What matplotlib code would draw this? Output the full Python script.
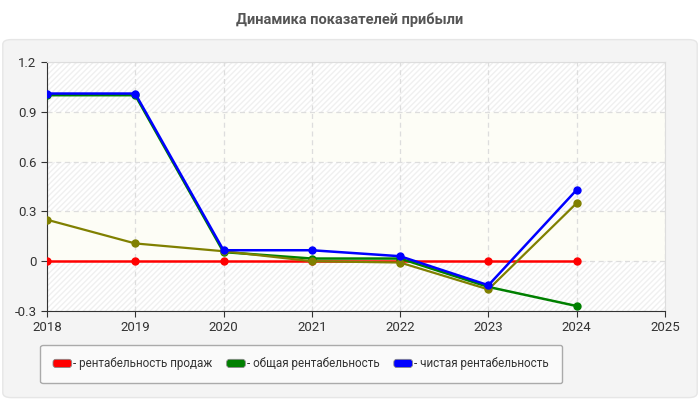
import matplotlib.pyplot as plt
from matplotlib.patches import FancyBboxPatch
from matplotlib.legend_handler import HandlerPatch

years = [2018, 2019, 2020, 2021, 2022, 2023, 2024]
sales = [0, 0, 0, 0, 0, 0, 0]
total = [1.0, 1.0, 0.055, 0.016, 0.016, -0.155, -0.27]
net = [1.01, 1.01, 0.066, 0.066, 0.03, -0.145, 0.43]
extra = [0.25, 0.107, 0.06, 0.0, -0.008, -0.17, 0.35]

labels = ['- рентабельность продаж', '- общая рентабельность', '- чистая рентабельность']
colors = ['#ff0000', '#008000', '#0000ff']
extra_color = '#808000'

yticks = [-0.3, 0, 0.3, 0.6, 0.9, 1.2]
ytick_labels = ['-0.3', '0', '0.3', '0.6', '0.9', '1.2']
xticks = [2018, 2019, 2020, 2021, 2022, 2023, 2024, 2025]

plt.rcParams['font.family'] = ['Roboto', 'DejaVu Sans']

fig = plt.figure(figsize=(7, 4), dpi=100)
fig.patch.set_facecolor('white')

# gray rounded panel behind everything
bg = fig.add_axes([0, 0, 1, 1], zorder=-10)
bg.set_axis_off()
bg.set_xlim(0, 1)
bg.set_ylim(0, 1)
bg.add_patch(FancyBboxPatch((0.004, 0.006), 0.992, 0.895, boxstyle='round,pad=0,rounding_size=0.012',
                            facecolor='#f4f4f4', edgecolor='#e6e6e6', lw=1))

fig.text(0.5, 0.95, 'Динамика показателей прибыли', ha='center', va='center',
         fontsize=10.5, fontweight='bold', color='#555555')

ax = fig.add_axes([0.067, 0.2225, 0.883, 0.6225])
ax.set_facecolor('#ffffff')

# alternating bands
for lo, hi in [(-0.3, 0), (0.3, 0.6), (0.9, 1.2)]:
    ax.axhspan(lo, hi, facecolor='white', edgecolor='#f0f0f0', hatch='//////', lw=0, zorder=0)
for lo, hi in [(0, 0.3), (0.6, 0.9)]:
    ax.axhspan(lo, hi, facecolor='#fdfdf6', lw=0, zorder=0)

ax.grid(True, color='#dddddd', linestyle=(0, (4, 3)), lw=0.9)
ax.set_axisbelow(True)

ax.plot(years, sales, color=colors[0], lw=1.8, marker='o', ms=5, zorder=3)
ax.plot(years, total, color=colors[1], lw=1.8, marker='o', ms=5, zorder=4)
ax.plot(years, extra, color=extra_color, lw=1.6, marker='o', ms=5, zorder=5)
ax.plot(years, net, color=colors[2], lw=1.8, marker='o', ms=5, zorder=6)

ax.set_xlim(2018, 2025)
ax.set_ylim(-0.3, 1.2)
ax.set_xticks(xticks)
ax.set_yticks(yticks)
ax.set_yticklabels(ytick_labels)
ax.tick_params(labelsize=9.5, colors='#333333', length=4)
for s in ['left', 'bottom']:
    ax.spines[s].set_color('#333333')
for s in ['top', 'right']:
    ax.spines[s].set_color('#dddddd')


class RoundHandler(HandlerPatch):
    def create_artists(self, legend, orig_handle, xdescent, ydescent, width, height, fontsize, trans):
        p = FancyBboxPatch((-xdescent, -ydescent), width, height,
                           boxstyle='round,pad=0,rounding_size=2',
                           facecolor=orig_handle.get_facecolor(), edgecolor='#888888', lw=0.6,
                           transform=trans)
        return [p]


handles = [FancyBboxPatch((0, 0), 1, 1, facecolor=c) for c in colors]
leg = fig.legend(handles, labels, loc='center', bbox_to_anchor=(0.43, 0.09), ncol=3,
                 frameon=True, fontsize=8.4, handlelength=1.6, handleheight=0.7,
                 handletextpad=0.15, columnspacing=1.2, borderpad=1.1, borderaxespad=0,
                 handler_map={FancyBboxPatch: RoundHandler()})
frame = leg.get_frame()
frame.set_facecolor('#fafafa')
frame.set_edgecolor('#aaaaaa')
frame.set_alpha(1)
for t in leg.get_texts():
    t.set_color('#333333')

fig.savefig('out.png', dpi=100)
